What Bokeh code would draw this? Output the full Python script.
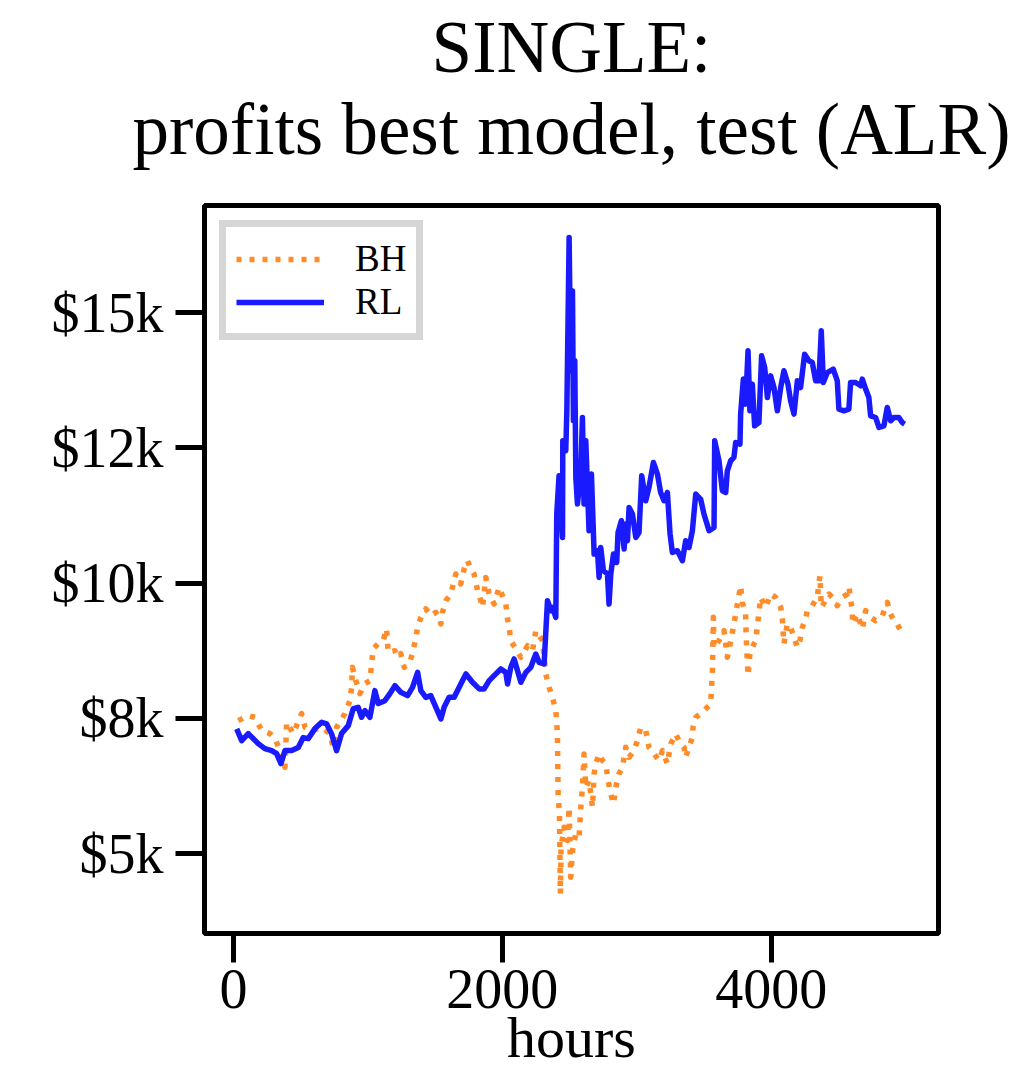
from bokeh.plotting import figure
from bokeh.models import (Range1d, FixedTicker, Title, Legend, LegendItem,
                          ColumnDataSource)
from bokeh.embed import file_html
from bokeh.resources import INLINE

# ---------------- data ----------------
title_line1 = "SINGLE:"
title_line2 = "profits best model, test (ALR)"
x_label = "hours"
series_names = ["BH", "RL"]

x_ticks = [0, 2000, 4000]
y_ticks = [5000, 7500, 10000, 12500, 15000]
y_tick_labels = ["$5k", "$8k", "$10k", "$12k", "$15k"]

rl_hours = [24, 61, 110, 184, 234, 284, 321, 353, 383, 433,
            482, 519, 556, 606, 656, 693, 730, 767, 804, 854,
            891, 928, 953, 978, 1015, 1052, 1077, 1126, 1164, 1201,
            1245, 1295, 1332, 1370, 1394, 1431, 1468, 1506, 1543, 1567,
            1604, 1642, 1679, 1729, 1778, 1828, 1865, 1902, 1952, 1989,
            2026, 2039, 2063, 2088, 2113, 2138, 2175, 2212, 2249, 2274,
            2311, 2336, 2361, 2373, 2398, 2405, 2422, 2448, 2450, 2472,
            2480, 2497, 2509, 2522, 2529, 2539, 2547, 2559, 2584, 2596,
            2608, 2621, 2645, 2663, 2683, 2708, 2720, 2732, 2752, 2782,
            2794, 2807, 2827, 2851, 2861, 2886, 2906, 2918, 2931, 2943,
            2968, 2993, 3017, 3037, 3067, 3091, 3124, 3154, 3178, 3203,
            3228, 3248, 3265, 3303, 3340, 3364, 3389, 3414, 3439, 3476,
            3500, 3538, 3575, 3580, 3612, 3637, 3662, 3674, 3699, 3723,
            3736, 3768, 3773, 3793, 3810, 3828, 3842, 3860, 3877, 3909,
            3929, 3952, 3972, 3996, 4021, 4046, 4071, 4095, 4125, 4145,
            4170, 4195, 4219, 4249, 4281, 4306, 4331, 4355, 4373, 4388,
            4418, 4462, 4492, 4504, 4541, 4578, 4591, 4628, 4666, 4678,
            4703, 4727, 4740, 4777, 4802, 4839, 4864, 4889, 4913, 4950,
            4975, 4993]
rl_value = [7304, 7088, 7218, 7033, 6940, 6903, 6848, 6663, 6903, 6903,
            6959, 7144, 7125, 7310, 7426, 7397, 7212, 6903, 7218, 7365,
            7680, 7704, 7519, 7643, 7519, 8012, 7772, 7827, 7957, 8105,
            7981, 7920, 8073, 8350, 8012, 7888, 7920, 7704, 7489, 7704,
            7888, 7888, 8073, 8321, 8166, 8044, 8044, 8197, 8321, 8413,
            8350, 8136, 8443, 8598, 8382, 8166, 8350, 8443, 8690, 8535,
            8506, 9675, 9491, 9552, 9367, 11278, 11985, 10845, 12632, 12447,
            13187, 16389, 13926, 15404, 13002, 14111, 11954, 11462, 12017, 13063,
            11462, 12632, 10969, 12017, 10538, 10599, 10106, 10660, 10230, 10169,
            9614, 10169, 10538, 10383, 10938, 11154, 10631, 11093, 10784, 11400,
            11278, 10845, 10938, 11985, 11523, 11769, 12231, 12017, 11677, 11523,
            11677, 10908, 10568, 10599, 10415, 10784, 10660, 10969, 11647, 11550,
            11278, 10969, 11030, 12632, 12263, 11708, 11677, 12078, 12263, 12324,
            12601, 12571, 13126, 13773, 13310, 14295, 13187, 13680, 12909, 12970,
            14203, 13987, 13432, 13833, 13617, 13187, 13617, 13926, 13680, 13371,
            13126, 13741, 13617, 14234, 14111, 14079, 13741, 13741, 14665, 13710,
            13894, 13957, 13741, 13218, 13187, 13218, 13710, 13710, 13649, 13773,
            13588, 13432, 13094, 13063, 12878, 12909, 13248, 13002, 13063, 13063,
            12970, 12941]

bh_hours = [36, 110, 160, 210, 271, 309, 346, 383, 396, 445,
            507, 532, 581, 656, 717, 742, 767, 829, 866, 879,
            885, 903, 941, 978, 1015, 1028, 1039, 1077, 1114, 1139,
            1151, 1201, 1225, 1245, 1270, 1307, 1332, 1357, 1370, 1394,
            1431, 1468, 1506, 1543, 1555, 1580, 1617, 1654, 1691, 1716,
            1741, 1766, 1790, 1816, 1840, 1853, 1877, 1902, 1939, 1976,
            2001, 2026, 2039, 2051, 2063, 2100, 2138, 2162, 2187, 2225,
            2249, 2274, 2299, 2311, 2323, 2348, 2373, 2398, 2410, 2415,
            2425, 2432, 2437, 2460, 2485, 2497, 2509, 2522, 2547, 2571,
            2584, 2596, 2608, 2621, 2645, 2671, 2683, 2695, 2720, 2745,
            2770, 2787, 2807, 2827, 2844, 2868, 2894, 2918, 2943, 2980,
            3005, 3030, 3067, 3091, 3129, 3166, 3191, 3228, 3253, 3290,
            3314, 3352, 3364, 3389, 3414, 3419, 3439, 3476, 3513, 3550,
            3563, 3570, 3575, 3612, 3649, 3674, 3699, 3723, 3749, 3773,
            3786, 3810, 3814, 3828, 3842, 3872, 3885, 3902, 3922, 3959,
            3996, 4034, 4071, 4083, 4095, 4120, 4145, 4165, 4195, 4214,
            4232, 4256, 4269, 4306, 4343, 4363, 4373, 4405, 4430, 4467,
            4492, 4529, 4567, 4579, 4604, 4606, 4641, 4678, 4703, 4740,
            4777, 4827, 4864, 4889, 4913, 4938, 4963, 4987]
bh_value = [7458, 7550, 7519, 7273, 7218, 7125, 6903, 6595, 7426, 7218,
            7587, 7334, 7273, 7334, 7218, 6964, 7334, 7587, 7827, 8073,
            8443, 8258, 7957, 8142, 8197, 8511, 8788, 8881, 8936, 9158,
            8720, 8751, 8628, 8696, 8443, 8511, 8696, 8997, 9182, 9367,
            9522, 9398, 9459, 9245, 9459, 9675, 9799, 10169, 9984, 10261,
            10415, 10261, 10169, 9860, 9675, 9552, 10106, 9799, 9614, 9921,
            9768, 9614, 9337, 9182, 8936, 8783, 8628, 8720, 8844, 8751,
            9121, 9029, 8936, 8628, 8321, 8073, 7888, 7643, 7212, 6103,
            5734, 4255, 5116, 5486, 5240, 5856, 4562, 5055, 5364, 5301,
            5856, 6225, 6842, 6225, 6349, 5856, 6473, 6658, 6842, 6719,
            6658, 6349, 6103, 5918, 6225, 6473, 6595, 6964, 6780, 6903,
            7088, 7334, 7273, 6964, 6842, 6719, 6903, 6658, 7027, 7212,
            7088, 6964, 6780, 6964, 7149, 7334, 7519, 7582, 7674, 7766,
            8382, 9367, 8812, 8936, 9121, 8628, 8936, 9245, 9614, 9953,
            9644, 9430, 8997, 8289, 8690, 8875, 8936, 9306, 9736, 9552,
            9799, 9736, 9552, 9337, 8875, 9245, 9182, 9029, 8812, 8936,
            9182, 9337, 9491, 9583, 9736, 10137, 9552, 9675, 9799, 9707,
            9583, 9736, 9799, 9921, 9491, 9245, 9430, 9152, 9491, 9367,
            9306, 9398, 9644, 9430, 9306, 9245, 9121, 9047]

# ---------------- styling ----------------
FONT = "Liberation Serif"
BH_COLOR = "#ff8c28"
RL_COLOR = "#1a1aff"

p = figure(width=1030, height=1080, output_backend="svg", toolbar_location=None,
           title=None,
           x_range=Range1d(-215.6, 5245), y_range=Range1d(3521, 16983),
           min_border_left=204, min_border_right=92,
           min_border_top=205, min_border_bottom=147)

p.background_fill_color = "white"
p.border_fill_color = "white"
p.outline_line_color = "black"
p.outline_line_width = 5
p.grid.visible = False

bh_src = ColumnDataSource(dict(x=bh_hours, y=bh_value))
rl_src = ColumnDataSource(dict(x=rl_hours, y=rl_value))

r_bh = p.line("x", "y", source=bh_src, line_color=BH_COLOR, line_width=5.5,
              line_dash="5 8", line_join="round")
r_rl = p.line("x", "y", source=rl_src, line_color=RL_COLOR, line_width=5.5,
              line_join="round")

# axes
for ax in (p.xaxis, p.yaxis):
    ax.axis_line_color = None
    ax.major_tick_line_width = 5
    ax.major_tick_line_color = "black"
    ax.major_tick_out = 29
    ax.major_tick_in = 0
    ax.minor_tick_line_color = None
    ax.major_label_text_font = FONT
    ax.major_label_text_font_size = "56px"
    ax.major_label_text_font_style = "normal"
    ax.major_label_text_color = "black"

p.xaxis.ticker = FixedTicker(ticks=x_ticks)
p.yaxis.ticker = FixedTicker(ticks=y_ticks)
p.yaxis.major_label_overrides = {t: l for t, l in zip(y_ticks, y_tick_labels)}
p.yaxis.major_label_standoff = 12
p.xaxis.major_label_standoff = 7

p.xaxis.axis_label = x_label
p.xaxis.axis_label_text_font = FONT
p.xaxis.axis_label_text_font_size = "58px"
p.xaxis.axis_label_text_font_style = "normal"
p.xaxis.axis_label_text_color = "black"
p.xaxis.axis_label_standoff = -6

# titles (first added is nearest to the plot)
t2 = Title(text=title_line2, align="center", text_font=FONT,
           text_font_size="73px", text_font_style="normal", text_color="black",
           standoff=72)
t1 = Title(text=title_line1, align="center", text_font=FONT,
           text_font_size="73px", text_font_style="normal", text_color="black",
           standoff=-74)
p.add_layout(t2, "above")
p.add_layout(t1, "above")

legend = Legend(items=[LegendItem(label=series_names[0], renderers=[r_bh]),
                       LegendItem(label=series_names[1], renderers=[r_rl])],
                location="top_left")
legend.label_text_font = FONT
legend.label_text_font_size = "37px"
legend.label_text_color = "black"
legend.border_line_color = "#d6d6d6"
legend.border_line_alpha = 1.0
legend.border_line_width = 7
legend.background_fill_color = "white"
legend.background_fill_alpha = 1.0
legend.glyph_width = 88
legend.glyph_height = 36
legend.label_height = 36
legend.label_standoff = 31
legend.padding = 10
legend.spacing = 0
legend.margin = 15
p.add_layout(legend)

open("out.html", "w").write(file_html(p, INLINE))
